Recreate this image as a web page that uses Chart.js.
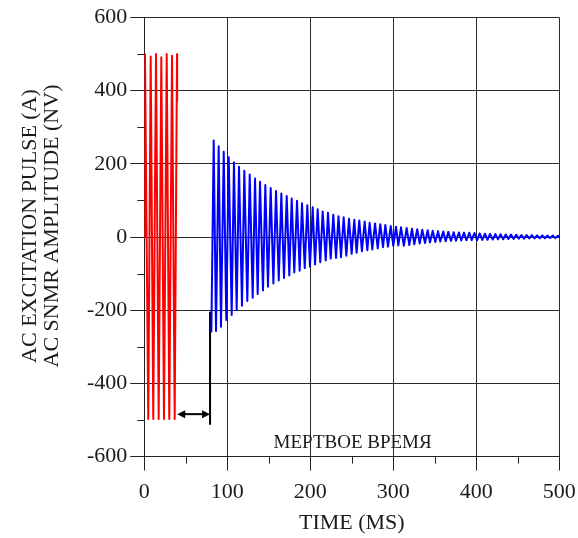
<!DOCTYPE html>
<html>
<head>
<meta charset="utf-8">
<script src="https://cdn.jsdelivr.net/npm/chart.js@4.4.1/dist/chart.umd.min.js"></script>
<style>
  html, body { margin: 0; padding: 0; background: #fff; }
  #wrap { width: 578px; height: 538px; }
</style>
</head>
<body>
<div id="wrap"><canvas id="c" width="578" height="538"></canvas></div>
<script>
// ---- data ----
const redTime  = [0, 0.8, 4.8, 7.7, 10.8, 14.1, 17.3, 20.5, 23.7, 27.0, 30.1, 33.4, 36.6, 39.4, 39.6];
const redValue = [0, 499, -497, 493, -497, 500, -497, 491, -497, 500, -497, 495, -497, 499, 372];

const blueTime = [80.8, 83.6, 86.4, 89.6, 92.4, 95.7, 98.8, 101.7, 105.3, 108.0, 111.3, 114.1, 117.7, 120.5, 124.1,
  127.0, 130.6, 133.4, 136.6, 139.4, 143.0, 145.8, 149.0, 152.3, 155.5, 158.7, 162.0, 165.1, 168.3, 171.6, 174.7,
  177.6, 180.7, 184.0, 187.2, 190.0, 193.3, 196.4, 199.6, 202.9, 205.7, 208.9, 212.0, 214.9, 218.6, 221.3, 224.6,
  227.7, 231.0, 234.0, 237.0, 240.2, 243.4, 246.6, 249.8, 253.0, 255.8, 259.0, 262.2, 265.5, 268.7, 271.5, 274.7,
  278.0, 281.2, 284.3, 287.6, 290.4, 293.6, 296.9, 300.0, 303.3, 306.0, 309.3, 312.7, 316.1, 319.3, 322.5, 325.3,
  328.9, 331.8, 334.9, 338.2, 341.4, 344.2, 347.5, 350.6, 353.9, 356.6, 360.2, 363.1, 366.3, 369.5, 372.8, 375.5,
  379.2, 381.9, 385.2, 388.0, 391.6, 394.5, 397.8, 400.9, 404.1, 407.2, 410.4, 413.5, 416.6, 419.8, 422.9, 426.1,
  429.2, 432.4, 435.5, 438.6, 441.8, 444.9, 448.1, 451.2, 454.4, 457.5, 460.6, 463.8, 466.9, 470.1, 473.2, 476.4,
  479.5, 482.6, 485.8, 488.9, 492.1, 495.2, 498.4, 500.0];
const blueValue = [-258, 264, -257, 248, -245, 233, -227, 218, -213, 204, -199, 192, -188, 181, -175,
  171, -166, 160, -156, 151, -146, 142, -136, 134, -127, 126, -119, 119, -112, 112, -105,
  105, -97, 99, -92, 92, -85, 87, -81, 81, -75, 76, -69, 70, -64, 66, -59,
  61, -57, 57, -55, 54, -51, 50, -46, 47, -43, 45, -39, 42, -36, 39, -34,
  37, -31, 35, -28, 33, -26.5, 30, -24, 28, -23, 26.5, -24, 24.6, -22, 22.7, -20,
  21, -18, 20, -16.4, 18.3, -15, 17.2, -13.5, 16, -12.5, 15, -11.5, 14, -10.5, 13, -10,
  12.5, -9.5, 12, -9, 11.5, -8.5, 11, -9, 10, -8, 9, -7.5, 8.5, -7, 8, -6.5,
  7.5, -6, 7, -5.5, 6.5, -5, 6, -4.5, 5.5, -4.5, 5, -4, 5, -4, 4.5, -3.5,
  4.5, -3.5, 4, -3, 4, -3, 3.5, 0];

const markerTime  = [79.2, 79.2];
const markerValue = [-206, -511];

const deadTimeArrow = [39.6, 79.2];   // ms
const deadTimeLevel = -484;
const deadTimeLabel = 'МЕРТВОЕ ВРЕМЯ';
const deadTimeLabelAt = [251, -563];

const xTitle = 'TIME (MS)';
const yTitle = ['    AC EXCITATION PULSE (A)', '    AC SNMR AMPLITUDE (NV)'];
const xMinorTicks = [50, 150, 250, 350, 450];
const yMinorTicks = [-500, -300, -100, 100, 300, 500];

const pts = (t, v) => t.map((x, i) => ({ x, y: v[i] }));

const FONT = "'Liberation Serif', 'Times New Roman', serif";
const INK = '#1a1a1a';
const GRID = '#2a2a2a';

const extras = {
  id: 'extras',
  afterDatasetsDraw(chart) {
    const { ctx, chartArea: a, scales: { x, y } } = chart;
    ctx.save();
    ctx.strokeStyle = '#222';
    ctx.lineWidth = 1;
    xMinorTicks.forEach(v => {
      const px = Math.round(x.getPixelForValue(v)) + 0.5;
      ctx.beginPath(); ctx.moveTo(px, a.bottom); ctx.lineTo(px, a.bottom + 7); ctx.stroke();
    });
    yMinorTicks.forEach(v => {
      const py = Math.round(y.getPixelForValue(v)) + 0.5;
      ctx.beginPath(); ctx.moveTo(a.left, py); ctx.lineTo(a.left - 7, py); ctx.stroke();
    });
    // dead time arrow
    const x1 = x.getPixelForValue(deadTimeArrow[0]);
    const x2 = x.getPixelForValue(deadTimeArrow[1]);
    const ay = y.getPixelForValue(deadTimeLevel);
    ctx.strokeStyle = '#000'; ctx.fillStyle = '#000'; ctx.lineWidth = 2;
    ctx.beginPath(); ctx.moveTo(x1 + 6, ay); ctx.lineTo(x2 - 6, ay); ctx.stroke();
    ctx.beginPath(); ctx.moveTo(x1, ay); ctx.lineTo(x1 + 8, ay - 4); ctx.lineTo(x1 + 8, ay + 4); ctx.closePath(); ctx.fill();
    ctx.beginPath(); ctx.moveTo(x2, ay); ctx.lineTo(x2 - 8, ay - 4); ctx.lineTo(x2 - 8, ay + 4); ctx.closePath(); ctx.fill();
    // label
    ctx.font = "19px " + FONT;
    ctx.fillStyle = INK;
    ctx.textAlign = 'center';
    ctx.textBaseline = 'middle';
    ctx.fillText(deadTimeLabel, x.getPixelForValue(deadTimeLabelAt[0]), y.getPixelForValue(deadTimeLabelAt[1]));
    ctx.restore();
  }
};

new Chart(document.getElementById('c'), {
  type: 'line',
  data: {
    datasets: [
      { data: pts(redTime, redValue), borderColor: '#ff0000', borderWidth: 2 },
      { data: pts(blueTime, blueValue), borderColor: '#0000ff', borderWidth: 2 },
      { data: pts(markerTime, markerValue), borderColor: '#000000', borderWidth: 2 }
    ]
  },
  options: {
    responsive: false,
    animation: false,
    elements: {
      point: { radius: 0 },
      line: { tension: 0, fill: false, borderJoinStyle: 'round', borderCapStyle: 'round' }
    },
    layout: { padding: { left: 0, right: 18.7, top: 17.4, bottom: 4 } },
    plugins: { legend: { display: false }, tooltip: { enabled: false } },
    scales: {
      x: {
        type: 'linear', min: 0, max: 500,
        ticks: { stepSize: 100, color: INK, font: { family: FONT, size: 22 }, padding: 8, maxRotation: 0 },
        grid: { color: GRID, lineWidth: 1, tickLength: 14, tickColor: '#222' },
        border: { color: '#222', width: 1 },
        title: { display: true, text: xTitle, color: INK, font: { family: FONT, size: 22, lineHeight: 1 }, padding: { top: 7, bottom: 0 } },
        afterFit(scale) { scale.height = 77.4; scale.paddingLeft = 0; scale.paddingRight = 0; }
      },
      y: {
        type: 'linear', min: -600, max: 600,
        ticks: { stepSize: 200, color: INK, font: { family: FONT, size: 22 }, padding: 3 },
        grid: { color: GRID, lineWidth: 1, tickLength: 14, tickColor: '#222' },
        border: { color: '#222', width: 1 },
        title: { display: true, text: yTitle, color: INK, font: { family: FONT, size: 22, lineHeight: 1 }, padding: { top: 19, bottom: 21 } },
        afterFit(scale) { scale.width = 144.3; scale.paddingTop = 0; scale.paddingBottom = 0; }
      }
    }
  },
  plugins: [extras]
});
</script>
</body>
</html>
